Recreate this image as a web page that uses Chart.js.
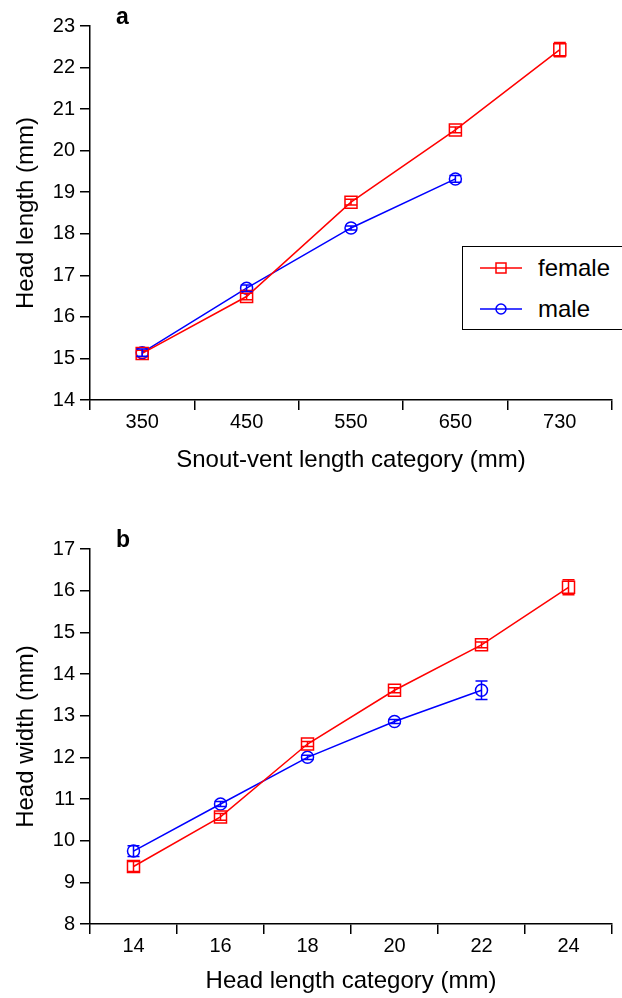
<!DOCTYPE html>
<html>
<head>
<meta charset="utf-8">
<script src="https://cdn.jsdelivr.net/npm/chart.js@4.4.1/dist/chart.umd.min.js"></script>
<style>
  html, body { margin: 0; padding: 0; background: #fff; overflow: hidden; }
  body { width: 622px; height: 998px; position: relative; font-family: "Liberation Sans", Arial, sans-serif; }
  .panel { position: absolute; left: 0; width: 622px; }
  .tag { position: absolute; font-weight: bold; font-size: 23px; line-height: 23px; color: #000; }
  .legend { position: absolute; left: 462px; top: 246px; width: 180px; height: 82px;
            border: 1.5px solid #000; background: #fff; }
  .legend .row { position: absolute; left: 0; height: 30px; display: flex; align-items: center; }
  .legend .row span { font-size: 24px; color: #000; margin-left: 15px; }
</style>
</head>
<body>
<div class="panel" style="top:0;height:500px"><canvas id="chartA"></canvas></div>
<div class="panel" style="top:500px;height:500px"><canvas id="chartB"></canvas></div>
<div class="tag" style="left:116px;top:5px">a</div>
<div class="tag" style="left:116px;top:528px">b</div>
<div class="legend">
  <div class="row" style="top:6px">
    <svg width="60" height="30" viewBox="0 0 60 30">
      <line x1="17" y1="15" x2="59" y2="15" stroke="#ff0000" stroke-width="1.5"/>
      <rect x="33" y="10" width="10" height="10" fill="none" stroke="#ff0000" stroke-width="1.5"/>
    </svg>
    <span>female</span>
  </div>
  <div class="row" style="top:47px">
    <svg width="60" height="30" viewBox="0 0 60 30">
      <line x1="17" y1="15" x2="59" y2="15" stroke="#0000ff" stroke-width="1.5"/>
      <circle cx="38" cy="15" r="5" fill="none" stroke="#0000ff" stroke-width="1.5"/>
    </svg>
    <span>male</span>
  </div>
</div>
<script>
// panel a: head length by snout-vent length category
const svlCategories = ['350', '450', '550', '650', '730'];
const headLenFemale = [15.12, 16.49, 18.76, 20.50, 22.43];
const headLenFemaleErr = [0.08, 0.08, 0.07, 0.07, 0.17];
const headLenMale = [15.14, 16.69, 18.14, 19.32];
const headLenMaleErr = [0.09, 0.08, 0.05, 0.08];

// panel b: head width by head length category
const hlCategories = ['14', '16', '18', '20', '22', '24'];
const headWidFemale = [9.38, 10.57, 12.32, 13.61, 14.70, 16.08];
const headWidFemaleErr = [0.12, 0.08, 0.06, 0.06, 0.07, 0.18];
const headWidMale = [9.75, 10.88, 12.00, 12.86, 13.61];
const headWidMaleErr = [0.13, 0.06, 0.05, 0.05, 0.22];

const RED = '#ff0000';
const BLUE = '#0000ff';

Chart.defaults.font.family = '"Liberation Sans", Arial, sans-serif';
Chart.defaults.color = '#000';

// draws vertical error bars with caps from dataset.errors
const errorBars = {
    id: 'errorBars',
    afterDatasetsDraw(chart) {
        const ctx = chart.ctx;
        const yScale = chart.scales.y;
        chart.data.datasets.forEach((ds, i) => {
            const meta = chart.getDatasetMeta(i);
            if (!ds.errors) return;
            ctx.save();
            ctx.strokeStyle = ds.borderColor;
            ctx.lineWidth = 1.5;
            meta.data.forEach((pt, j) => {
                const v = ds.data[j];
                const e = ds.errors[j];
                if (v == null || e == null) return;
                const top = yScale.getPixelForValue(v + e);
                const bot = yScale.getPixelForValue(v - e);
                ctx.beginPath();
                ctx.moveTo(pt.x, top);
                ctx.lineTo(pt.x, bot);
                ctx.moveTo(pt.x - 6, top);
                ctx.lineTo(pt.x + 6, top);
                ctx.moveTo(pt.x - 6, bot);
                ctx.lineTo(pt.x + 6, bot);
                ctx.stroke();
            });
            ctx.restore();
        });
    }
};

const makeChart = (canvasId, labels, female, femaleErr, male, maleErr, opts) => {
    const ctx = document.getElementById(canvasId).getContext('2d');
    return new Chart(ctx, {
        type: 'line',
        data: {
            labels: labels,
            datasets: [{
                label: 'female',
                data: female,
                errors: femaleErr,
                borderColor: RED,
                backgroundColor: 'rgba(0,0,0,0)',
                borderWidth: 1.5,
                tension: 0,
                pointStyle: 'rect',
                pointRadius: 8.5,
                pointBorderWidth: 1.5,
                pointBorderColor: RED,
                pointBackgroundColor: 'rgba(0,0,0,0)'
            }, {
                label: 'male',
                data: male,
                errors: maleErr,
                borderColor: BLUE,
                backgroundColor: 'rgba(0,0,0,0)',
                borderWidth: 1.5,
                tension: 0,
                pointStyle: 'circle',
                pointRadius: 6,
                pointBorderWidth: 1.5,
                pointBorderColor: BLUE,
                pointBackgroundColor: 'rgba(0,0,0,0)'
            }]
        },
        options: {
            responsive: true,
            maintainAspectRatio: false,
            animation: false,
            layout: { padding: { top: opts.top, right: 10, left: 8, bottom: opts.bottom } },
            plugins: {
                legend: { display: false },
                tooltip: { enabled: false }
            },
            scales: {
                x: {
                    type: 'category',
                    offset: true,
                    grid: {
                        offset: true,
                        drawOnChartArea: false,
                        drawTicks: true,
                        tickLength: 10,
                        color: '#000',
                        lineWidth: 1.5
                    },
                    border: { display: true, color: '#000', width: 1.5 },
                    ticks: { font: { size: 20 }, padding: 0, color: '#000', maxRotation: 0 },
                    title: { display: true, text: opts.xTitle, font: { size: 24 }, color: '#000' },
                    afterFit: (s) => { s.height = opts.xHeight; }
                },
                y: {
                    min: opts.yMin,
                    max: opts.yMax,
                    grid: {
                        drawOnChartArea: false,
                        drawTicks: true,
                        tickLength: 10,
                        color: '#000',
                        lineWidth: 1.5
                    },
                    border: { display: true, color: '#000', width: 1.5 },
                    ticks: { stepSize: 1, font: { size: 20 }, padding: 5, color: '#000' },
                    title: { display: true, text: opts.yTitle, font: { size: 24 }, color: '#000' },
                    afterFit: (s) => { s.width = 82; }
                }
            }
        },
        plugins: [errorBars]
    });
};

makeChart('chartA', svlCategories, headLenFemale, headLenFemaleErr, headLenMale, headLenMaleErr, {
    top: 26, bottom: 21, xHeight: 79, yMin: 14, yMax: 23,
    xTitle: 'Snout-vent length category (mm)', yTitle: 'Head length (mm)'
});

makeChart('chartB', hlCategories, headWidFemale, headWidFemaleErr, headWidMale, headWidMaleErr, {
    top: 49, bottom: 0, xHeight: 76, yMin: 8, yMax: 17,
    xTitle: 'Head length category (mm)', yTitle: 'Head width (mm)'
});
</script>
</body>
</html>
